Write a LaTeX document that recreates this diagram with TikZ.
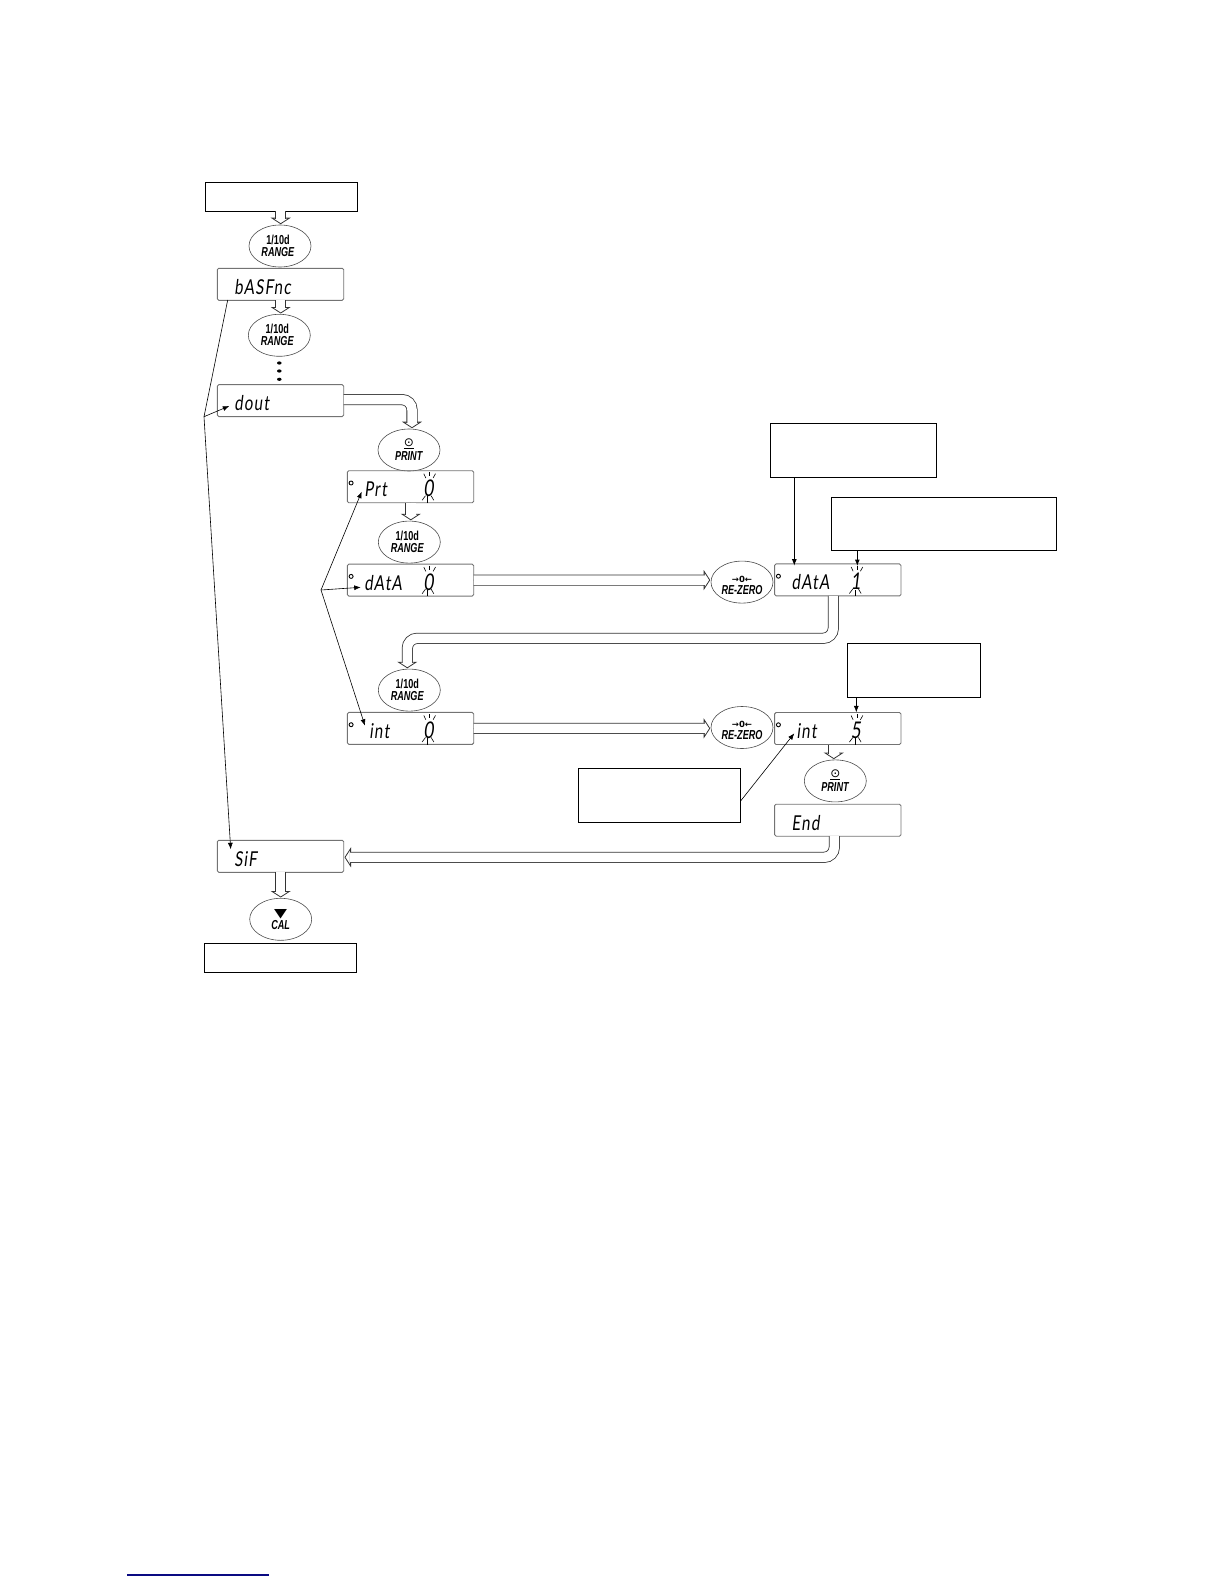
\documentclass[tikz,border=0pt]{standalone}
\usepackage{fontspec}
\usetikzlibrary{positioning,shapes.geometric,arrows.meta}
\newfontfamily\lcdfont[FakeStretch=.74,FakeSlant=.12,LetterSpace=6]{Lato}
\newfontfamily\keyfont[FakeStretch=.7,BoldFont={Liberation Sans Bold},ItalicFont={Liberation Sans Bold Italic}]{Liberation Sans Bold}
\newfontfamily\symfont{DejaVu Sans}
\newfontfamily\symbold{DejaVu Sans Bold}
\definecolor{linkblue}{RGB}{10,10,130}
\newcommand{\lcdline}[2]{\makebox[58pt][l]{#1}\makebox[12.6pt][c]{\fontsize{23}{23}\selectfont #2}}
\newcommand{\rangekey}{1/10d\hspace*{4pt}\\\textit{RANGE}\hspace*{4pt}}
\newcommand{\printkey}{\underline{\symfont\fontsize{12}{12}\selectfont ⊙}\\[2pt]\textit{PRINT}}
\newcommand{\zerokey}{\rule{0pt}{12pt}{\symbold\fontsize{8.5}{8.5}\selectfont →0←}\\\textit{RE-ZERO}}
\newcommand{\flowarrow}[1]{%
  \draw[flowtip] #1;
  \draw[flowline] #1;}
\tikzset{
  notebox/.style={draw, line width=1pt, minimum width=#1, inner sep=0pt, outer sep=0pt},
  display/.style={draw=black!55, line width=.9pt, rounded corners=1.5pt, minimum width=126.4pt, minimum height=32pt, inner sep=0pt, outer sep=0pt, text width=92.4pt, align=left, text height=20pt, text depth=0pt, font=\lcdfont\fontsize{20.5}{20.5}\selectfont},
  keypad/.style={draw=black!70, line width=.6pt, ellipse, minimum width=62pt, minimum height=42pt, inner sep=0pt, outer sep=0pt, align=center, font=\keyfont\fontsize{13}{12}\selectfont},
  blob/.style={fill, ellipse, minimum width=4.5pt, minimum height=3.2pt, inner sep=0pt, outer sep=0pt},
  flowtip/.style={line width=.8pt, black!80, shorten >=.8pt, -{Triangle[open, length=6.5pt, width=20pt, line width=.8pt]}},
  flowline/.style={line width=.8pt, black!80, double=white, double distance=9.5pt, rounded corners=10pt, shorten >=6.2pt},
  pointer/.style={line width=.6pt, ->}
}
\begin{document}
\begin{tikzpicture}[x=1pt, y=-1pt, >={Latex[length=6.5pt,width=5pt]}]
  \useasboundingbox (0,0) rectangle (1224,1584);
  \node (start) [notebox=152pt, minimum height=28.6pt] at (281.3,197) {};
  \node (rangea) [keypad, below=13.7pt of start, xshift=-1.3pt] {\rangekey};
  \node (basfnc) [display, below=1.3pt of rangea, xshift=.5pt] {\lcdline{bASFnc}{}};
  \node (rangeb) [keypad, below=14pt of basfnc, xshift=-1.2pt] {\rangekey};
  \node (dota) [blob, below=5.1pt of rangeb] {};
  \node (dotb) [blob, below=4.8pt of dota] {};
  \node (dotc) [blob, below=5.1pt of dotb] {};
  \node (dout) [display, below=3.7pt of dotc, xshift=1.2pt] {\lcdline{dout}{}};
  \node (printa) [keypad] at (409,450) {\printkey};
  \node (prt) [display, below=-.3pt of printa, xshift=1.5pt] {\lcdline{Prt}{0}};
  \node (rangec) [keypad, below=18.4pt of prt, xshift=-1.2pt] {\rangekey};
  \node (data) [display, below=1pt of rangec, xshift=1.2pt] {\lcdline{dAtA}{0}};
  \node (ranged) [keypad, below=73pt of data, xshift=-1.2pt] {\rangekey};
  \node (intz) [display, below=1.3pt of ranged, xshift=1.2pt] {\lcdline{\hspace{5pt}int}{0}};
  \node (rezeroa) [keypad, right=237.3pt of data, yshift=-2pt] {\zerokey};
  \node (dataone) [display, right=1.6pt of rezeroa, yshift=2.2pt] {\lcdline{dAtA}{1}};
  \node (rezerob) [keypad, right=237.3pt of intz, yshift=.9pt] {\zerokey};
  \node (intfive) [display, right=1.6pt of rezerob, yshift=-1pt] {\lcdline{\hspace{5pt}int}{5}};
  \node (printb) [keypad, below=15.4pt of intfive, xshift=-2.5pt] {\printkey};
  \node (endd) [display, below=2.3pt of printb, xshift=2.5pt] {\lcdline{End}{}};
  \node (sif) [display] at (280.5,856.3) {\lcdline{SiF}{}};
  \node (cal) [keypad, below=26pt of sif, xshift=.2pt] {\resizebox{13pt}{8pt}{\symfont ▼}\\\textit{CAL}};
  \node (stop) [notebox=152pt, minimum height=29pt, below=3pt of cal, xshift=-.4pt] {};
  \node (boxa) [notebox=166pt, minimum height=53.7pt, above=86.5pt of dataone, xshift=15.5pt] {};
  \node (boxb) [notebox=225pt, minimum height=53pt, above=13.2pt of dataone, xshift=106.4pt] {};
  \node (boxc) [notebox=133.3pt, minimum height=54pt, above=15pt of intfive, xshift=76.5pt] {};
  \node (boxd) [notebox=162.6pt, minimum height=53.3pt, left=34pt of intfive, yshift=-67pt] {};
  \flowarrow{([xshift=.7pt]rangea.north |- start.south) -- ([xshift=.7pt]rangea.north)}
  \flowarrow{([xshift=1.4pt]rangeb.north |- basfnc.south) -- ([xshift=1.4pt]rangeb.north)}
  \flowarrow{([yshift=1pt]dout.east) -| ([xshift=3pt]printa.north)}
  \flowarrow{([xshift=1.5pt]rangec.north |- prt.south) -- ([xshift=1.5pt]rangec.north)}
  \flowarrow{(data.east) -- ([yshift=.03pt]data.east -| rezeroa.west)}
  \flowarrow{([xshift=-4.5pt]dataone.south) |- (640,638.3) -| ([xshift=-2pt]ranged.north)}
  \flowarrow{(intz.east) -- ([yshift=.03pt]intz.east -| rezerob.west)}
  \flowarrow{([xshift=-4pt]intfive.south) -- ([xshift=-4pt]intfive.south |- printb.north)}
  \flowarrow{([xshift=-3.5pt]endd.south) |- ([yshift=-1pt]sif.east)}
  \flowarrow{(cal.north |- sif.south) -- (cal.north)}
  \coordinate (fanl) at (204,416.7);
  \coordinate (fanr) at (321,590);
  \coordinate (tipbas) at (227.7,300);
  \coordinate (tipdout) at (229.3,406);
  \coordinate (tipsif) at (230.7,849.3);
  \coordinate (tipprt) at (361.7,491.7);
  \coordinate (tipdata) at (360.7,587.3);
  \coordinate (tipint) at (365,725.7);
  \coordinate (tipa) at (794.3,565.7);
  \coordinate (tipb) at (857.3,566);
  \coordinate (tipc) at (856.3,712.3);
  \coordinate (tipd) at (794.3,733.3);
  \coordinate (linka) at (127,1575);
  \coordinate (linkb) at (269,1575);
  \draw[line width=.6pt] (tipbas) -- (fanl);
  \draw[pointer] (fanl) -- (tipdout);
  \draw[pointer] (fanl) -- (tipsif);
  \draw[pointer] (fanr) -- (tipprt);
  \draw[pointer] (fanr) -- (tipdata);
  \draw[pointer] (fanr) -- (tipint);
  \draw[pointer, line width=1pt] (boxa.south -| tipa) -- (tipa);
  \draw[pointer, line width=1pt] (boxb.south -| tipb) -- (tipb);
  \draw[pointer] (boxc.south -| tipc) -- (tipc);
  \draw[pointer] ([yshift=-5.5pt]boxd.east) -- (tipd);
  \foreach \n in {prt,data,intz,dataone,intfive} {
    \draw[line width=.9pt] (\n.west) ++(3.8,-3.7) circle (2);
    \begin{scope}[shift={(\n.west)}, xshift=81.5pt, yshift=-1.3pt, line width=.6pt]
      \draw (-5,-14.3) -- (-3,-10);
      \draw (.7,-15.7) -- (.7,-11.7);
      \draw (6.7,-14.3) -- (4.3,-10);
      \draw (-6.7,12.3) -- (-3.3,7.7);
      \draw[line width=1pt] (-1,15) -- (-1,8.3);
      \draw (5,12.3) -- (2.3,7.7);
    \end{scope}
  }
  \draw[linkblue, line width=1.2pt] (linka) -- (linkb);
\end{tikzpicture}
\end{document}
